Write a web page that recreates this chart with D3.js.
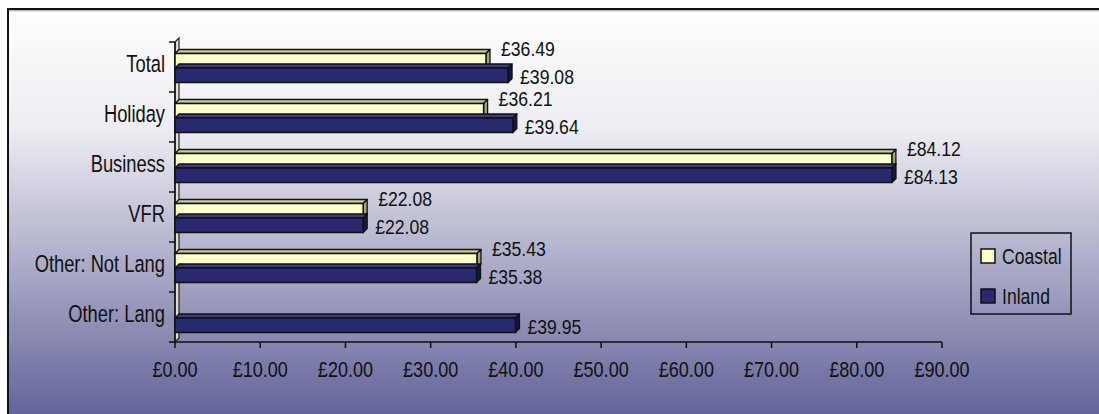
<!DOCTYPE html>
<html><head><meta charset="utf-8">
<script src="https://cdn.jsdelivr.net/npm/d3@7"></script>
<style>
body{margin:0;background:#fff}
svg{display:block}
text{font-family:"Liberation Sans",Arial,sans-serif;fill:#111}
</style>
</head><body>
<svg id="c" width="1099" height="414"></svg>
<script>
const categories = ["Total","Holiday","Business","VFR","Other: Not Lang","Other: Lang"];
const seriesNames = ["Coastal","Inland"];
const coastal = [36.49,36.21,84.12,22.08,35.43,null];
const inland = [39.08,39.64,84.13,22.08,35.38,39.95];
const xTicks = [0,10,20,30,40,50,60,70,80,90];

const svg = d3.select("#c");
const W = 1099, H = 414;
const D = 4; // 3D depth
const colors = {
  Coastal:{front:"#ffffcc", top:"#cccc99", side:"#a3a37a"},
  Inland:{front:"#29296f", top:"#3a3a85", side:"#16164a"}
};
const place = (px,py,sx) => `translate(${px},${py}) scale(${sx},1)`;

// background gradient
const defs = svg.append("defs");
const g1 = defs.append("linearGradient").attr("id","bg").attr("x1",0).attr("y1",0).attr("x2",0).attr("y2",1);
g1.append("stop").attr("offset","0%").attr("stop-color","#ffffff");
g1.append("stop").attr("offset","30%").attr("stop-color","#ececf2");
g1.append("stop").attr("offset","100%").attr("stop-color","#64649a");
svg.append("rect").attr("x",8).attr("y",9).attr("width",W-8).attr("height",H-9).attr("fill","url(#bg)");
svg.append("path").attr("d",`M8,${H} L8,9 L${W},9`).attr("fill","none").attr("stroke","#111").attr("stroke-width",2);
svg.append("line").attr("x1",9).attr("x2",W).attr("y1",10.8).attr("y2",10.8).attr("stroke","#999").attr("stroke-width",1);

const x = d3.scaleLinear().domain([0,90]).range([175,942]);
const y = d3.scaleBand().domain(categories).range([42,342]).padding(0);
const inner = d3.scaleBand().domain(seriesNames).range([0,29]);
const barH = inner.bandwidth();
const bandOff = (y.bandwidth()-29)/2 + 1;

// left wall
const x0 = x(0), yTop = y.range()[0], yBot = y.range()[1];
svg.append("path")
  .attr("d",`M${x0},${yTop} L${x0+D},${yTop-D} L${x0+D},${yBot-D} L${x0},${yBot} Z`)
  .attr("fill","#deded2").attr("stroke","#222").attr("stroke-width",1.2);

// y axis
const yAxis = svg.append("g");
yAxis.append("line").attr("x1",x0).attr("x2",x0).attr("y1",yTop).attr("y2",yBot).attr("stroke","#111").attr("stroke-width",1.5);
const bounds = categories.map(c=>y(c)).concat([yBot]);
yAxis.selectAll("line.t").data(bounds).join("line").attr("class","t")
  .attr("x1",x0-6).attr("x2",x0).attr("y1",d=>d).attr("y2",d=>d).attr("stroke","#111").attr("stroke-width",1.5);
yAxis.selectAll("text").data(categories).join("text")
  .attr("transform",d=>place(x0-10, y(d)+y.bandwidth()/2-3.5, 0.78)).attr("dy","0.35em")
  .attr("text-anchor","end").style("font-size","23.5px").text(d=>d);

// x axis
const xAxis = svg.append("g");
xAxis.append("line").attr("x1",x0).attr("x2",x(90)).attr("y1",yBot).attr("y2",yBot).attr("stroke","#111").attr("stroke-width",1.5);
xAxis.selectAll("line.t").data(xTicks).join("line").attr("class","t")
  .attr("x1",d=>x(d)).attr("x2",d=>x(d)).attr("y1",yBot).attr("y2",yBot+6).attr("stroke","#111").attr("stroke-width",1.5);
const fmt = v => "£" + d3.format(".2f")(v);
xAxis.selectAll("text").data(xTicks).join("text")
  .attr("transform",d=>place(x(d), yBot+27, 0.82)).attr("dy","0.35em")
  .attr("text-anchor","middle").style("font-size","22px").text(fmt);

// bars
const rows = [];
categories.forEach((c,i)=>{
  rows.push({cat:c, s:"Coastal", v:coastal[i]});
  rows.push({cat:c, s:"Inland", v:inland[i]});
});
const valid = rows.filter(r=>r.v!=null);
const bars = svg.append("g").selectAll("g").data(valid).join("g");
bars.each(function(r){
  const g = d3.select(this);
  const by0 = y(r.cat)+bandOff+inner(r.s), by1 = by0+barH;
  const bx0 = x(0), bx1 = x(r.v);
  const col = colors[r.s];
  g.append("path").attr("d",`M${bx0},${by0} L${bx0+D},${by0-D} L${bx1+D},${by0-D} L${bx1},${by0} Z`)
    .attr("fill",col.top).attr("stroke","#111").attr("stroke-width",1.3).attr("stroke-linejoin","round");
  g.append("path").attr("d",`M${bx1},${by0} L${bx1+D},${by0-D} L${bx1+D},${by1-D} L${bx1},${by1} Z`)
    .attr("fill",col.side).attr("stroke","#111").attr("stroke-width",1.3).attr("stroke-linejoin","round");
  g.append("rect").attr("x",bx0).attr("y",by0).attr("width",bx1-bx0).attr("height",barH)
    .attr("fill",col.front).attr("stroke","#111").attr("stroke-width",1.5);
});

// data labels
svg.append("g").selectAll("text").data(valid).join("text")
  .attr("transform",r=>{
    const c=y(r.cat)+bandOff+inner(r.s)+barH/2;
    return place(x(r.v)+D+(r.s==="Coastal"?11:8), r.s==="Coastal"? c-12 : c+1, 0.84);
  })
  .attr("dy","0.35em").style("font-size","21px").text(r=>fmt(r.v));

// legend
const lg = svg.append("g");
lg.append("rect").attr("x",971).attr("y",233).attr("width",100).attr("height",81)
  .attr("fill","none").attr("stroke","#111").attr("stroke-width",1.5);
const li = lg.selectAll("g").data(seriesNames).join("g")
  .attr("transform",(d,i)=>`translate(981,${249+i*40})`);
li.append("rect").attr("width",14).attr("height",14).attr("fill",d=>colors[d].front).attr("stroke","#111").attr("stroke-width",1.5);
li.append("text").attr("transform",place(21,7,0.8)).attr("dy","0.35em").style("font-size","22px").text(d=>d);
</script>
</body></html>
